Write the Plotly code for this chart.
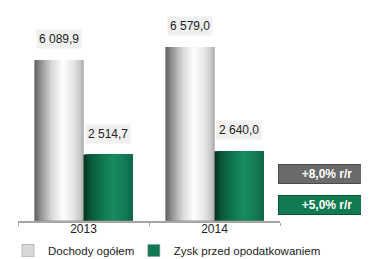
import plotly.graph_objects as go

categories = ["2013", "2014"]
dochody = [6089.9, 6579.0]
zysk = [2514.7, 2640.0]
series_names = ["Dochody ogółem", "Zysk przed opodatkowaniem"]
growth_labels = ["+8,0% r/r", "+5,0% r/r"]

FONT = "Liberation Sans Narrow, Arial Narrow, Liberation Sans, Arial, sans-serif"

def fmt(v):
    s = f"{v:,.1f}"
    return s.replace(",", " ").replace(".", ",")

def hex2rgb(h):
    h = h.lstrip("#")
    return tuple(int(h[i:i + 2], 16) for i in (0, 2, 4))

def grad(stops, t):
    for (t0, c0), (t1, c1) in zip(stops, stops[1:]):
        if t0 <= t <= t1:
            a = (t - t0) / (t1 - t0) if t1 > t0 else 0
            r0, g0, b0 = hex2rgb(c0)
            r1, g1, b1 = hex2rgb(c1)
            return "rgb(%d,%d,%d)" % (r0 + (r1 - r0) * a, g0 + (g1 - g0) * a, b0 + (b1 - b0) * a)
    return stops[-1][1]

white_stops = [(0, "#5e5e5e"), (0.12, "#8e8e8e"), (0.35, "#d8d8d8"), (0.58, "#ffffff"),
               (0.8, "#e6e6e6"), (0.95, "#c4c4c4"), (1, "#a8a8a8")]
green_stops = [(0, "#04301e"), (0.15, "#0b5a3a"), (0.4, "#117a52"), (0.6, "#1a8c62"),
               (0.85, "#137a55"), (1, "#0e6746")]

BW = 0.375
N = 24
fig = go.Figure()

for s_idx, (vals, stops, name, legcol, leg) in enumerate([
        (dochody, white_stops, series_names[0], "#d9d9d9", "legend"),
        (zysk, green_stops, series_names[1], "#117a52", "legend2")]):
    base = -BW if s_idx == 0 else 0.0
    w = BW / N
    for i in range(N):
        t = (i + 0.5) / N
        fig.add_trace(go.Bar(
            x=categories, y=vals, name=name,
            offset=base + i * w, width=BW - i * w,
            marker=dict(color=grad(stops, t), line=dict(width=0)),
            showlegend=False, hoverinfo="skip",
        ))
    fig.add_trace(go.Bar(
        x=categories, y=[0] * len(vals), name=name, offset=base, width=BW,
        marker=dict(color=legcol, line=dict(width=0.5, color="#8a8a8a")),
        showlegend=True, hoverinfo="skip", legend=leg,
    ))

# value labels
for vals, off in [(dochody, -BW / 2), (zysk, BW / 2)]:
    for ci, v in enumerate(vals):
        fig.add_annotation(
            x=ci + off, y=v, xref="x", yref="y", text=fmt(v), showarrow=False,
            yshift=21, yanchor="middle",
            bgcolor="#f0f0f0", borderpad=2,
            font=dict(family=FONT, size=12, color="#222222"),
        )

# growth boxes
box_cols = [("#6a6a6a", "#4a4a4a"), ("#127a50", "#0a5536")]
box_y = [0.225, 0.078]
for lbl, (bg, bd), yy in zip(growth_labels, box_cols, box_y):
    fig.add_annotation(
        x=1.181, y=yy, xref="paper", yref="paper", text="<b>" + lbl + "</b>",
        showarrow=False, width=94, height=16, bgcolor=bg, bordercolor=bd,
        borderwidth=1, xanchor="center", yanchor="middle",
        font=dict(family=FONT, size=12, color="white"),
    )

leg_common = dict(orientation="h", xref="container", yref="container",
                  y=0.064, xanchor="left", yanchor="middle", itemwidth=30,
                  bgcolor="rgba(0,0,0,0)")
fig.update_layout(
    width=369, height=259,
    margin=dict(l=10, r=97, t=5, b=46, autoexpand=False),
    paper_bgcolor="white", plot_bgcolor="white",
    barmode="overlay",
    showlegend=True,
    legend=dict(x=0.0, font=dict(family=FONT, size=11.5, color="#222222"), **leg_common),
    legend2=dict(x=0.341, font=dict(family=FONT, size=11.5, color="#222222"), **leg_common),
    font=dict(family=FONT),
)
fig.update_xaxes(
    type="category", range=[-0.5, 1.5], showline=True, linecolor="#a6a6a6", linewidth=2,
    ticks="outside", tickson="boundaries", ticklen=3, tickcolor="#a6a6a6",
    ticklabelstandoff=-4,
    tickfont=dict(family=FONT, size=12, color="#222222"), showgrid=False,
)
fig.update_yaxes(range=[0, 7867], visible=False, showgrid=False)

fig.write_html("out.html")
